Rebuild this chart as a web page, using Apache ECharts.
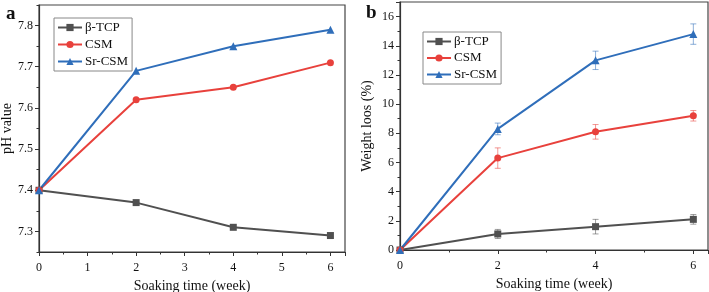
<!DOCTYPE html>
<html>
<head>
<meta charset="utf-8">
<script src="https://cdn.jsdelivr.net/npm/echarts@6/dist/echarts.min.js"></script>
<style>
  html, body { margin: 0; padding: 0; background: #fff; }
  #main { width: 709px; height: 292px; }
</style>
</head>
<body>
<div id="main"></div>
<script>
// 数据
const weeks = [0, 2, 4, 6];
const seriesNames = ['β-TCP', 'CSM', 'Sr-CSM'];

const phTCP = [7.4, 7.37, 7.31, 7.29];
const phCSM = [7.4, 7.62, 7.65, 7.71];
const phSrCSM = [7.4, 7.69, 7.75, 7.79];

const lossTCP = [0, 1.1, 1.6, 2.1];
const lossCSM = [0, 6.3, 8.1, 9.2];
const lossSrCSM = [0, 8.3, 13.0, 14.8];
const errTCP = [0, 0.31, 0.5, 0.33];
const errCSM = [0, 0.7, 0.5, 0.36];
const errSrCSM = [0, 0.4, 0.63, 0.7];

const phLabelTicks = [7.3, 7.4, 7.5, 7.6, 7.7, 7.8];
const phMinorTicks = [7.25, 7.35, 7.45, 7.55, 7.65, 7.75, 7.85];

const colors = ['#505050', '#e8413c', '#2f6eba'];
const symbols = ['rect', 'circle', 'triangle'];
const font = 'Liberation Serif';

const myChart = echarts.init(document.getElementById('main'));

function pairs(ys) {
  return weeks.map((w, i) => [w, ys[i]]);
}

function lineSeries(idx, xi, yi, ys) {
  return {
    name: seriesNames[idx],
    type: 'line',
    xAxisIndex: xi,
    yAxisIndex: yi,
    data: pairs(ys),
    symbol: symbols[idx],
    symbolSize: idx === 2 ? 8 : 7,
    showAllSymbol: true,
    itemStyle: { color: colors[idx] },
    lineStyle: { color: colors[idx], width: 2 },
    z: 3
  };
}

// 误差棒
function errSeries(idx, ys, errs) {
  const data = weeks.map((w, i) => [w, ys[i] - errs[i], ys[i] + errs[i]]);
  return {
    type: 'custom',
    xAxisIndex: 1,
    yAxisIndex: 2,
    data: data,
    z: 2,
    renderItem: function (params, api) {
      if (api.value(2) - api.value(1) === 0) return;
      const lo = api.coord([api.value(0), api.value(1)]);
      const hi = api.coord([api.value(0), api.value(2)]);
      const hw = 3;
      const st = { stroke: colors[idx], lineWidth: 1, opacity: 0.55 };
      return {
        type: 'group',
        children: [
          { type: 'line', shape: { x1: lo[0], y1: lo[1], x2: hi[0], y2: hi[1] }, style: st },
          { type: 'line', shape: { x1: lo[0] - hw, y1: lo[1], x2: lo[0] + hw, y2: lo[1] }, style: st },
          { type: 'line', shape: { x1: hi[0] - hw, y1: hi[1], x2: hi[0] + hw, y2: hi[1] }, style: st }
        ]
      };
    }
  };
}

const axisLine = { show: true, lineStyle: { color: '#333', width: 1.2 } };
const tickStyle = { lineStyle: { color: '#333', width: 1 } };
const labelStyle = { color: '#111', fontFamily: font, fontSize: 12 };
const nameStyle = { color: '#111', fontFamily: font, fontSize: 14 };

const legendBase = {
  orient: 'vertical',
  data: seriesNames,
  itemWidth: 24,
  itemHeight: 9,
  itemGap: 4,
  borderColor: '#888',
  borderWidth: 1,
  borderRadius: 0,
  padding: [3, 4, 3, 3],
  textStyle: { fontFamily: font, fontSize: 13, color: '#111', padding: [0, 0, 0, -2] }
};

myChart.setOption({
  animation: false,
  backgroundColor: '#fff',
  title: [
    { text: 'a', left: 1, top: 0, textStyle: { fontFamily: font, fontSize: 19, fontWeight: 'bold', color: '#111' } },
    { text: 'b', left: 361, top: -1, textStyle: { fontFamily: font, fontSize: 19, fontWeight: 'bold', color: '#111' } }
  ],
  legend: [
    Object.assign({}, legendBase, { left: 54, top: 18 }),
    Object.assign({}, legendBase, { left: 423, top: 32, itemGap: 3.5 })
  ],
  grid: [
    { left: 39, top: 5, width: 306, height: 247, show: true, borderColor: '#444', borderWidth: 1.2, outerBoundsMode: 'none', containLabel: false },
    { left: 400, top: 2, width: 308, height: 248, show: true, borderColor: '#444', borderWidth: 1.2, outerBoundsMode: 'none', containLabel: false }
  ],
  xAxis: [
    {
      gridIndex: 0, type: 'value', min: 0, max: 6.3, interval: 1,
      name: 'Soaking time (week)', nameLocation: 'middle', nameGap: 27, nameTextStyle: nameStyle,
      axisLine: axisLine,
      axisTick: Object.assign({ show: true, length: 4 }, tickStyle),
      minorTick: { show: true, splitNumber: 2, length: 2.5, lineStyle: { color: '#333' } },
      axisLabel: Object.assign({ margin: 10, showMaxLabel: false }, labelStyle),
      splitLine: { show: false }
    },
    {
      gridIndex: 1, type: 'value', min: 0, max: 6.3, interval: 2,
      name: 'Soaking time (week)', nameLocation: 'middle', nameGap: 27, nameTextStyle: nameStyle,
      axisLine: axisLine,
      axisTick: Object.assign({ show: true, length: 4 }, tickStyle),
      minorTick: { show: true, splitNumber: 2, length: 2.5, lineStyle: { color: '#333' } },
      axisLabel: Object.assign({ margin: 10, showMaxLabel: false }, labelStyle),
      splitLine: { show: false }
    }
  ],
  yAxis: [
    {
      gridIndex: 0, type: 'value', min: 7.25, max: 7.85,
      name: 'pH value', nameLocation: 'middle', nameGap: 23, nameTextStyle: nameStyle,
      axisLine: axisLine,
      axisTick: Object.assign({ show: true, length: 4, customValues: phLabelTicks }, tickStyle),
      axisLabel: Object.assign({ margin: 6, customValues: phLabelTicks, formatter: v => v.toFixed(1) }, labelStyle),
      splitLine: { show: false }
    },
    {
      gridIndex: 0, type: 'value', min: 7.25, max: 7.85, position: 'left',
      axisLine: { show: false },
      axisTick: Object.assign({ show: true, length: 2.5, customValues: phMinorTicks }, tickStyle),
      axisLabel: { show: false },
      splitLine: { show: false }
    },
    {
      gridIndex: 1, type: 'value', min: 0, max: 17, interval: 2,
      name: 'Weight loos (%)', nameLocation: 'middle', nameGap: 26, nameTextStyle: nameStyle,
      axisLine: axisLine,
      axisTick: Object.assign({ show: true, length: 4 }, tickStyle),
      minorTick: { show: true, splitNumber: 2, length: 2.5, lineStyle: { color: '#333' } },
      axisLabel: Object.assign({ margin: 6, showMaxLabel: false }, labelStyle),
      splitLine: { show: false }
    }
  ],
  series: [
    lineSeries(0, 0, 0, phTCP),
    lineSeries(1, 0, 0, phCSM),
    lineSeries(2, 0, 0, phSrCSM),
    errSeries(0, lossTCP, errTCP),
    errSeries(1, lossCSM, errCSM),
    errSeries(2, lossSrCSM, errSrCSM),
    lineSeries(0, 1, 2, lossTCP),
    lineSeries(1, 1, 2, lossCSM),
    lineSeries(2, 1, 2, lossSrCSM)
  ]
});
</script>
</body>
</html>
